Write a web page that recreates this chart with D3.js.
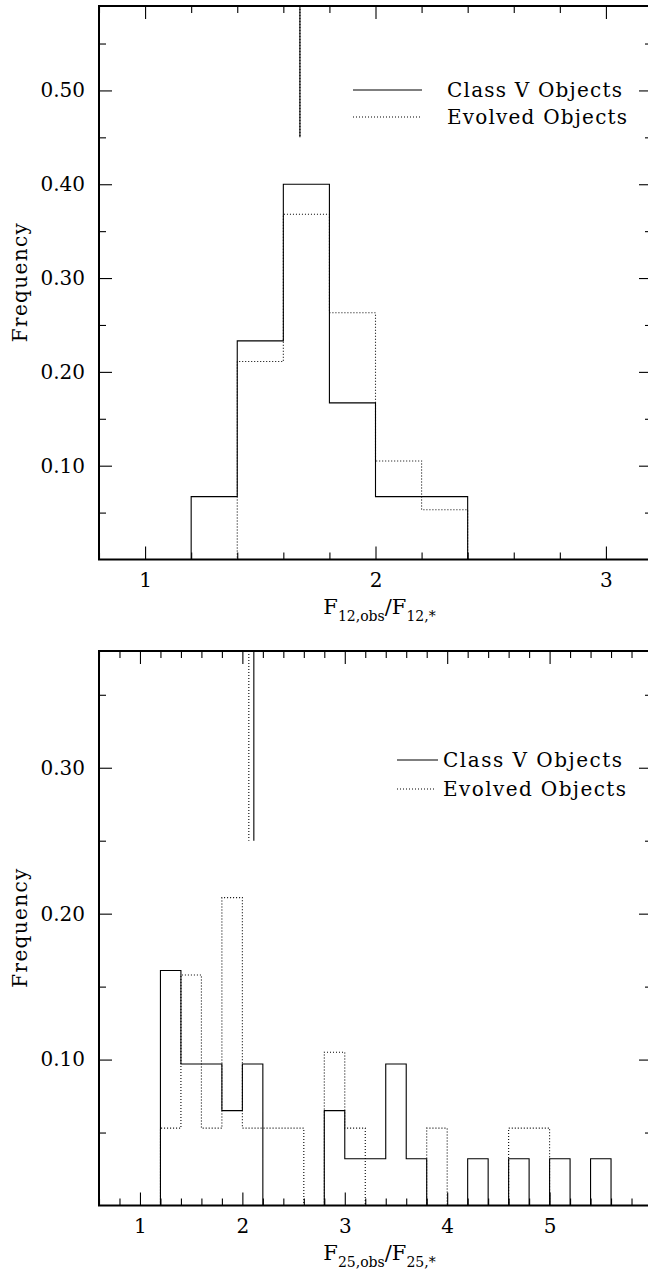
<!DOCTYPE html>
<html>
<head>
<meta charset="utf-8">
<script src="https://cdn.jsdelivr.net/npm/d3@7"></script>
<style>
  html, body { margin: 0; padding: 0; background: #fff; }
  svg { display: block; }
</style>
</head>
<body>
<svg id="chart" width="648" height="1271"></svg>
<script>
// ---------- data ----------
const binWidth = 0.2;

// Upper panel: F12,obs / F12,*
const f12Edges   = [1.2, 1.4, 1.6, 1.8, 2.0, 2.2];
const f12ClassV  = [0.067, 0.233, 0.400, 0.167, 0.067, 0.067];
const f12Evolved = [0.000, 0.211, 0.368, 0.263, 0.105, 0.053];
const f12Medians = { classV: 1.672, evolved: 1.672, lower: 0.45 };
const f12XTicks  = [1, 2, 3];
const f12YTicks  = [0.10, 0.20, 0.30, 0.40, 0.50];
const f12XDomain = [0.8, 3.2];
const f12YDomain = [0, 0.59];

// Lower panel: F25,obs / F25,*
const f25Edges   = [1.2, 1.4, 1.6, 1.8, 2.0, 2.2, 2.4, 2.6, 2.8, 3.0, 3.2,
                    3.4, 3.6, 3.8, 4.0, 4.2, 4.4, 4.6, 4.8, 5.0, 5.2, 5.4];
const f25ClassV  = [0.161, 0.097, 0.097, 0.065, 0.097, 0, 0, 0, 0.065, 0.032, 0.032,
                    0.097, 0.032, 0, 0, 0.032, 0, 0.032, 0, 0.032, 0, 0.032];
const f25Evolved = [0.053, 0.158, 0.053, 0.211, 0.053, 0.053, 0.053, 0, 0.105, 0.053, 0,
                    0, 0, 0.053, 0, 0, 0, 0.053, 0.053, 0, 0, 0];
const f25Medians = { classV: 2.112, evolved: 2.063, lower: 0.25 };
const f25XTicks  = [1, 2, 3, 4, 5];
const f25YTicks  = [0.10, 0.20, 0.30];
const f25XDomain = [0.6, 6.0];
const f25YDomain = [0, 0.38];

const legendLabels = ["Class V Objects", "Evolved Objects"];

// ---------- drawing ----------
const svg = d3.select("#chart");
const FONT = "'DejaVu Serif', 'Liberation Serif', serif";
const plotLeft = 99, plotRight = 652;
const DOT = "1,2";

function stepPoints(edges, values) {
  const pts = [[edges[0], 0]];
  edges.forEach((e, i) => {
    pts.push([e, values[i]]);
    pts.push([e + binWidth, values[i]]);
  });
  pts.push([edges[edges.length - 1] + binWidth, 0]);
  return pts;
}

function panel(cfg) {
  const g = svg.append("g");
  const x = d3.scaleLinear().domain(cfg.xDomain).range([plotLeft, plotRight]);
  const y = d3.scaleLinear().domain(cfg.yDomain).range([cfg.bottom, cfg.top]);

  const xMinor = d3.range(Math.ceil(cfg.xDomain[0] / 0.2 - 1e-6), Math.floor(cfg.xDomain[1] / 0.2 + 1e-6) + 1)
    .map(k => +(k * 0.2).toFixed(2)).filter(v => !cfg.xTicks.includes(v));
  const yMinor = d3.range(1, Math.floor(cfg.yDomain[1] / 0.05 + 1e-6) + 1)
    .map(k => +(k * 0.05).toFixed(2)).filter(v => !cfg.yTicks.some(t => Math.abs(t - v) < 1e-6));

  function styleAxis(sel) {
    sel.select(".domain").remove();
    sel.selectAll("line").attr("stroke", "#000").attr("stroke-width", 1.1);
    sel.selectAll("text").attr("font-family", FONT).attr("font-size", 20).attr("fill", "#000");
  }
  // bottom
  g.append("g").attr("transform", `translate(0,${cfg.bottom})`)
    .call(d3.axisBottom(x).tickValues(cfg.xTicks).tickSize(-13).tickPadding(13).tickFormat(d3.format("d")))
    .call(styleAxis);
  g.append("g").attr("transform", `translate(0,${cfg.bottom})`)
    .call(d3.axisBottom(x).tickValues(xMinor).tickSize(-7).tickFormat(""))
    .call(styleAxis);
  // top
  g.append("g").attr("transform", `translate(0,${cfg.top})`)
    .call(d3.axisTop(x).tickValues(cfg.xTicks).tickSize(-13).tickFormat(""))
    .call(styleAxis);
  g.append("g").attr("transform", `translate(0,${cfg.top})`)
    .call(d3.axisTop(x).tickValues(xMinor).tickSize(-7).tickFormat(""))
    .call(styleAxis);
  // left
  g.append("g").attr("transform", `translate(${plotLeft},0)`)
    .call(d3.axisLeft(y).tickValues(cfg.yTicks).tickSize(-13).tickPadding(14).tickFormat(d3.format(".2f")))
    .call(styleAxis);
  g.append("g").attr("transform", `translate(${plotLeft},0)`)
    .call(d3.axisLeft(y).tickValues(yMinor).tickSize(-7).tickFormat(""))
    .call(styleAxis);
  // right
  g.append("g").attr("transform", `translate(${plotRight},0)`)
    .call(d3.axisRight(y).tickValues(cfg.yTicks).tickSize(-13).tickFormat(""))
    .call(styleAxis);
  g.append("g").attr("transform", `translate(${plotRight},0)`)
    .call(d3.axisRight(y).tickValues(yMinor).tickSize(-7).tickFormat(""))
    .call(styleAxis);

  // histograms
  const line = d3.line().x(d => x(d[0])).y(d => y(d[1]));
  g.append("path").attr("d", line(stepPoints(cfg.edges, cfg.classV)))
    .attr("fill", "none").attr("stroke", "#000").attr("stroke-width", 1.1);
  g.append("path").attr("d", line(stepPoints(cfg.edges, cfg.evolved)))
    .attr("fill", "none").attr("stroke", "#000").attr("stroke-width", 1.1)
    .attr("stroke-dasharray", DOT);

  // median lines
  g.append("line")
    .attr("x1", x(cfg.medians.evolved)).attr("x2", x(cfg.medians.evolved))
    .attr("y1", y(cfg.yDomain[1])).attr("y2", y(cfg.medians.lower))
    .attr("stroke", "#000").attr("stroke-width", 1.1).attr("stroke-dasharray", DOT);
  g.append("line")
    .attr("x1", x(cfg.medians.classV)).attr("x2", x(cfg.medians.classV))
    .attr("y1", y(cfg.yDomain[1])).attr("y2", y(cfg.medians.lower))
    .attr("stroke", "#000").attr("stroke-width", 1.1);

  // frame
  g.append("rect").attr("x", plotLeft).attr("y", cfg.top)
    .attr("width", plotRight - plotLeft).attr("height", cfg.bottom - cfg.top)
    .attr("fill", "none").attr("stroke", "#000").attr("stroke-width", 2);

  // legend
  const L = cfg.legend;
  g.append("line").attr("x1", L.x1).attr("x2", L.x2a).attr("y1", L.y1).attr("y2", L.y1)
    .attr("stroke", "#000").attr("stroke-width", 1.1);
  g.append("line").attr("x1", L.x1).attr("x2", L.x2b).attr("y1", L.y2).attr("y2", L.y2)
    .attr("stroke", "#000").attr("stroke-width", 1.1).attr("stroke-dasharray", DOT);
  g.append("text").attr("x", L.tx).attr("y", L.y1 + 7)
    .attr("font-family", FONT).attr("font-size", 20)
    .attr("textLength", L.w1).attr("lengthAdjust", "spacing").text(legendLabels[0]);
  g.append("text").attr("x", L.tx).attr("y", L.y2 + 7)
    .attr("font-family", FONT).attr("font-size", 20)
    .attr("textLength", L.w2).attr("lengthAdjust", "spacing").text(legendLabels[1]);

  // y label
  const cy = (cfg.top + cfg.bottom) / 2;
  g.append("text").attr("transform", `translate(27,${cy}) rotate(-90)`)
    .attr("text-anchor", "middle").attr("font-family", FONT).attr("font-size", 20)
    .attr("textLength", 119).attr("lengthAdjust", "spacing").text("Frequency");

  // x label
  const xl = g.append("text").attr("x", (plotLeft + plotRight) / 2 + 4).attr("y", cfg.bottom + 54)
    .attr("text-anchor", "middle").attr("font-family", FONT).attr("font-size", 21);
  xl.append("tspan").text("F");
  xl.append("tspan").attr("font-size", 14).attr("dy", 7).text(cfg.band + ",obs");
  xl.append("tspan").attr("dy", -7).text("/F");
  xl.append("tspan").attr("font-size", 14).attr("dy", 7).text(cfg.band + ",*");
}

panel({
  top: 6, bottom: 559.5,
  xDomain: f12XDomain, yDomain: f12YDomain,
  xTicks: f12XTicks, yTicks: f12YTicks,
  edges: f12Edges, classV: f12ClassV, evolved: f12Evolved, medians: f12Medians,
  band: "12",
  legend: { x1: 353, x2a: 422, x2b: 422, y1: 90, y2: 117, tx: 447, w1: 175, w2: 180 }
});

panel({
  top: 651, bottom: 1205.5,
  xDomain: f25XDomain, yDomain: f25YDomain,
  xTicks: f25XTicks, yTicks: f25YTicks,
  edges: f25Edges, classV: f25ClassV, evolved: f25Evolved, medians: f25Medians,
  band: "25",
  legend: { x1: 397, x2a: 438, x2b: 434, y1: 760, y2: 789, tx: 443, w1: 179, w2: 183 }
});
</script>
</body>
</html>
